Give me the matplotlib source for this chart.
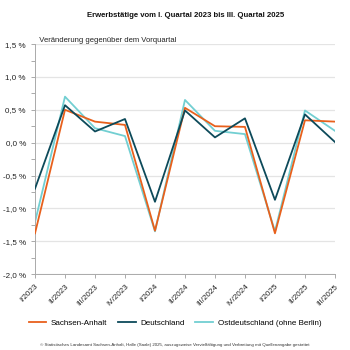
import matplotlib
matplotlib.use('Agg')
import matplotlib.pyplot as plt
from matplotlib.ticker import MultipleLocator, FuncFormatter

plt.rcParams['font.family'] = ['Liberation Sans', 'DejaVu Sans']

quartale = ['I/2023', 'II/2023', 'III/2023', 'IV/2023', 'I/2024', 'II/2024',
            'III/2024', 'IV/2024', 'I/2025', 'II/2025', 'III/2025']
sachsen_anhalt = [-1.38, 0.50, 0.32, 0.27, -1.34, 0.53, 0.25, 0.24, -1.38, 0.34, 0.32]
deutschland = [-0.70, 0.57, 0.17, 0.36, -0.90, 0.49, 0.08, 0.37, -0.87, 0.43, 0.01]
ostdeutschland = [-1.21, 0.70, 0.22, 0.10, -1.35, 0.65, 0.18, 0.13, -1.35, 0.49, 0.18]

fig = plt.figure(figsize=(3.5, 3.5), dpi=100)
ax = fig.add_axes([0.1, 0.217, 0.857, 0.657])

x = range(len(quartale))
ax.plot(x, sachsen_anhalt, color='#e8601c', lw=1.3, label='Sachsen-Anhalt', zorder=3)
ax.plot(x, deutschland, color='#0d4a5a', lw=1.3, label='Deutschland', zorder=4)
ax.plot(x, ostdeutschland, color='#72cfd2', lw=1.3, label='Ostdeutschland (ohne Berlin)', zorder=2)

ax.set_xlim(0, 10)
ax.set_ylim(-2.0, 1.5)
ax.yaxis.set_major_locator(MultipleLocator(0.5))
ax.yaxis.set_minor_locator(MultipleLocator(0.25))
ax.yaxis.set_major_formatter(FuncFormatter(lambda v, p: f'{v:.1f} %'.replace('.', ',')))
ax.set_xticks(list(x))
ax.set_xticklabels(quartale, rotation=45, ha='right', rotation_mode='anchor')
ax.tick_params(labelsize=5.8, colors='#222222', length=3, color='#aaaaaa', width=0.7)
ax.tick_params(axis='y', which='minor', length=3, color='#aaaaaa', width=0.7)
ax.grid(axis='y', color='#e4e4e4', lw=0.9, zorder=0)
ax.set_axisbelow(True)
for s in ['top', 'right']:
    ax.spines[s].set_visible(False)
for s in ['left', 'bottom']:
    ax.spines[s].set_color('#aaaaaa')
    ax.spines[s].set_linewidth(0.7)

fig.text(0.53, 0.955, 'Erwerbstätige vom I. Quartal 2023 bis III. Quartal 2025',
         ha='center', va='center', fontsize=5.6, fontweight='bold', color='#111111')
ax.text(0.0, 1.5, '  Veränderung gegenüber dem Vorquartal', ha='left', va='bottom',
        fontsize=5.5, color='#222222')

fig.legend(loc='center', bbox_to_anchor=(0.5, 0.077), ncol=3, frameon=False,
           fontsize=5.8, handlelength=2.2, columnspacing=1.3, handletextpad=0.6)
fig.text(0.5, 0.015, '© Statistisches Landesamt Sachsen-Anhalt, Halle (Saale) 2025, auszugsweise '
         'Vervielfältigung und Verbreitung mit Quellenangabe gestattet',
         ha='center', va='center', fontsize=3.2, color='#333333')

fig.savefig('out.png', dpi=100)
